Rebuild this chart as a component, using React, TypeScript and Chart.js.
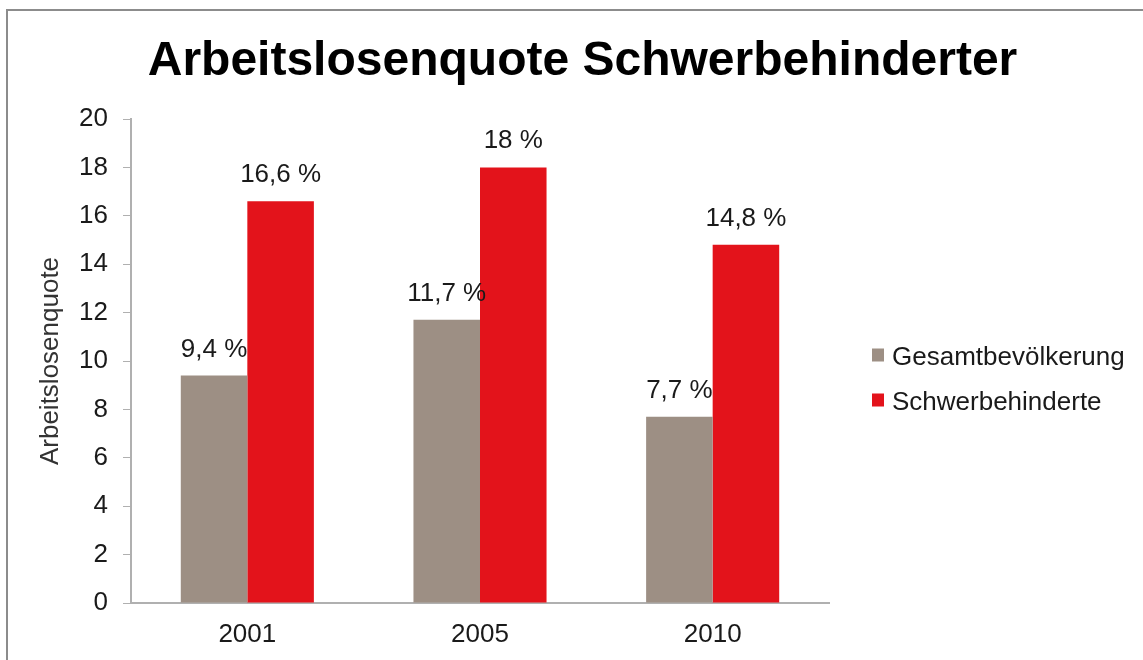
import React, { useEffect, useRef } from 'react';
import { Chart, registerables } from 'chart.js';

Chart.register(...registerables);

const TITLE = 'Arbeitslosenquote Schwerbehinderter';
const Y_TITLE = 'Arbeitslosenquote';
const CATEGORIES = ['2001', '2005', '2010'];
const SERIES_NAMES = ['Gesamtbevölkerung', 'Schwerbehinderte'];
const GESAMT = [9.4, 11.7, 7.7];
const SCHWER = [16.6, 18, 14.8];
const Y_MIN = 0;
const Y_MAX = 20;
const Y_STEP = 2;
const COLORS = ['#9d8f84', '#e3131b'];

const FONT = '"Liberation Sans", Arial, Helvetica, sans-serif';

const fmt = (v: number) => String(v).replace('.', ',') + ' %';

const overlay = {
  id: 'overlay',
  afterDatasetsDraw(chart: any) {
    const ctx = chart.ctx as CanvasRenderingContext2D;
    const area = chart.chartArea;
    ctx.save();
    // value labels
    ctx.font = `26px ${FONT}`;
    ctx.fillStyle = '#1a1a1a';
    ctx.textAlign = 'center';
    ctx.textBaseline = 'alphabetic';
    chart.data.datasets.forEach((ds: any, i: number) => {
      const meta = chart.getDatasetMeta(i);
      meta.data.forEach((bar: any, j: number) => {
        ctx.fillText(fmt(ds.data[j]), bar.x, bar.y - 19);
      });
    });
    // title
    ctx.font = `bold 48px ${FONT}`;
    ctx.fillStyle = '#000';
    ctx.textAlign = 'center';
    ctx.fillText(TITLE, chart.width / 2 + 11, 75);
    // legend
    ctx.font = `26px ${FONT}`;
    ctx.textAlign = 'left';
    const lx = area.right + 43;
    const cy = (area.top + area.bottom) / 2 + 17;
    chart.data.datasets.forEach((ds: any, i: number) => {
      const y = cy + (i - 0.5) * 45;
      ctx.fillStyle = ds.backgroundColor;
      ctx.fillRect(lx, y - 7, 12, 13);
      ctx.fillStyle = '#1a1a1a';
      ctx.fillText(ds.label, lx + 20, y + 9);
    });
    ctx.restore();
  },
};

export default function App() {
  const ref = useRef<HTMLCanvasElement>(null);
  useEffect(() => {
    if (!ref.current) return;
    const chart = new Chart(ref.current, {
      type: 'bar',
      data: {
        labels: CATEGORIES,
        datasets: [
          { label: SERIES_NAMES[0], data: GESAMT, backgroundColor: COLORS[0] },
          { label: SERIES_NAMES[1], data: SCHWER, backgroundColor: COLORS[1] },
        ],
      },
      options: {
        responsive: false,
        animation: false,
        layout: { padding: { left: 24, right: 314, top: 119, bottom: 0 } },
        datasets: {
          bar: { categoryPercentage: 0.572, barPercentage: 1 },
        },
        plugins: {
          legend: { display: false },
          title: { display: false },
          tooltip: { enabled: false },
        },
        scales: {
          x: {
            grid: { display: true, drawOnChartArea: false, drawTicks: false },
            border: { display: true, color: '#b0b0b0', width: 2 },
            ticks: { color: '#1a1a1a', font: { family: FONT, size: 26 }, padding: 16 },
            afterFit: (s: any) => { s.height = 57; },
          },
          y: {
            min: Y_MIN,
            max: Y_MAX,
            grid: { display: true, drawOnChartArea: false, drawTicks: true, tickLength: 8, color: '#b0b0b0' },
            border: { display: true, color: '#b0b0b0', width: 2 },
            ticks: { stepSize: Y_STEP, color: '#1a1a1a', font: { family: FONT, size: 26 }, padding: 15 },
            title: {
              display: true,
              text: Y_TITLE,
              color: '#333333',
              font: { family: FONT, size: 26 },
              padding: { top: 11, bottom: 0 },
            },
            afterFit: (s: any) => { s.width = 107; },
          },
        },
      },
      plugins: [overlay],
    });
    return () => chart.destroy();
  }, []);
  return (
    <div style={{ position: 'fixed', left: 0, top: 0, width: 1143, height: 660, background: '#fff', overflow: 'hidden' }}>
      <div style={{ position: 'absolute', left: 6, top: 9, width: 1200, height: 700, borderLeft: '2px solid #8c8c8c', borderTop: '2px solid #8c8c8c' }} />
      <canvas ref={ref} width={1143} height={660} style={{ position: 'absolute', left: 0, top: 0 }} />
    </div>
  );
}
